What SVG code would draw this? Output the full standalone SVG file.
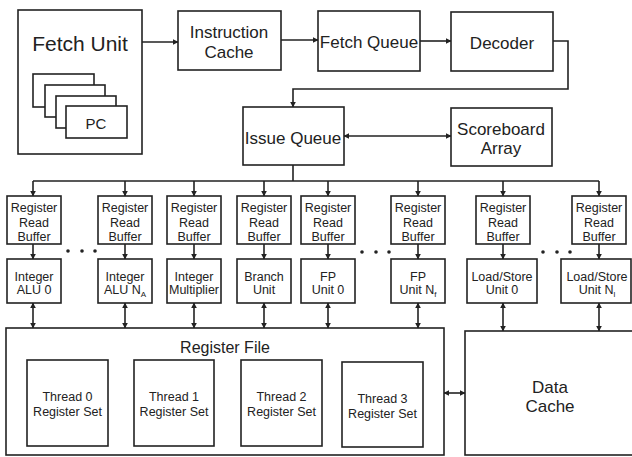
<svg xmlns="http://www.w3.org/2000/svg" width="632" height="457" viewBox="0 0 632 457">
<defs>
<style>
rect{fill:#fff;stroke:#222;stroke-width:1.6}
text{font-family:"Liberation Sans",Arial,sans-serif;fill:#222;text-anchor:middle}
.c{fill:none;stroke:#222;stroke-width:1.6}
.big{font-size:21px}
.m{font-size:17px}
.s{font-size:12.5px}
.rf{font-size:16px}
</style>
<marker id="a" viewBox="0 0 10 10" refX="9" refY="5" markerWidth="6" markerHeight="6" orient="auto-start-reverse" markerUnits="userSpaceOnUse">
<path d="M0,0 L10,5 L0,10 z" fill="#222"/>
</marker>
</defs>
<rect x="0" y="0" width="632" height="457" style="fill:#fff;stroke:none"/>

<g id="connectors">
<line class="c" x1="142" y1="42" x2="178" y2="42" marker-end="url(#a)"/>
<line class="c" x1="281" y1="40" x2="318" y2="40" marker-end="url(#a)"/>
<line class="c" x1="420" y1="41" x2="451" y2="41" marker-end="url(#a)"/>
<path class="c" d="M553,41 H568 V89 H293 V107" marker-end="url(#a)"/>
<line class="c" x1="344" y1="136" x2="451" y2="136" marker-start="url(#a)" marker-end="url(#a)"/>
<path class="c" d="M293,165 V181 M33,181 H599"/>
<line class="c" x1="33" y1="181" x2="33" y2="196" marker-end="url(#a)"/>
<line class="c" x1="125" y1="181" x2="125" y2="196" marker-end="url(#a)"/>
<line class="c" x1="194" y1="181" x2="194" y2="196" marker-end="url(#a)"/>
<line class="c" x1="264" y1="181" x2="264" y2="196" marker-end="url(#a)"/>
<line class="c" x1="328" y1="181" x2="328" y2="196" marker-end="url(#a)"/>
<line class="c" x1="418" y1="181" x2="418" y2="196" marker-end="url(#a)"/>
<line class="c" x1="503" y1="181" x2="503" y2="196" marker-end="url(#a)"/>
<line class="c" x1="599" y1="181" x2="599" y2="196" marker-end="url(#a)"/>
<line class="c" x1="33" y1="244" x2="33" y2="259" marker-end="url(#a)"/>
<line class="c" x1="125" y1="244" x2="125" y2="259" marker-end="url(#a)"/>
<line class="c" x1="194" y1="244" x2="194" y2="259" marker-end="url(#a)"/>
<line class="c" x1="264" y1="244" x2="264" y2="259" marker-end="url(#a)"/>
<line class="c" x1="328" y1="244" x2="328" y2="259" marker-end="url(#a)"/>
<line class="c" x1="418" y1="244" x2="418" y2="259" marker-end="url(#a)"/>
<line class="c" x1="503" y1="244" x2="503" y2="259" marker-end="url(#a)"/>
<line class="c" x1="599" y1="244" x2="599" y2="259" marker-end="url(#a)"/>
<line class="c" x1="33" y1="303" x2="33" y2="328" marker-start="url(#a)" marker-end="url(#a)"/>
<line class="c" x1="125" y1="303" x2="125" y2="328" marker-start="url(#a)" marker-end="url(#a)"/>
<line class="c" x1="194" y1="303" x2="194" y2="328" marker-start="url(#a)" marker-end="url(#a)"/>
<line class="c" x1="264" y1="303" x2="264" y2="328" marker-start="url(#a)" marker-end="url(#a)"/>
<line class="c" x1="328" y1="303" x2="328" y2="328" marker-start="url(#a)" marker-end="url(#a)"/>
<line class="c" x1="418" y1="303" x2="418" y2="328" marker-start="url(#a)" marker-end="url(#a)"/>
<line class="c" x1="503" y1="303" x2="503" y2="331" marker-start="url(#a)" marker-end="url(#a)"/>
<line class="c" x1="599" y1="303" x2="599" y2="331" marker-start="url(#a)" marker-end="url(#a)"/>
<line class="c" x1="444" y1="393" x2="465" y2="393" marker-start="url(#a)" marker-end="url(#a)"/>
</g>

<g id="fetch-unit">
<rect x="18" y="10" width="124" height="144"/>
<text class="big" x="80" y="51">Fetch Unit</text>
<rect x="33" y="74" width="61" height="33"/>
<rect x="45" y="85" width="60" height="32"/>
<rect x="56" y="96" width="60" height="32"/>
<rect x="66" y="106" width="61" height="32"/>
<text x="96" y="129" style="font-size:15px">PC</text>
</g>
<g id="instruction-cache">
<rect x="178" y="11" width="103" height="59"/>
<text class="m" x="229" y="38">Instruction</text>
<text class="m" x="229" y="58">Cache</text>
</g>
<g id="fetch-queue">
<rect x="318" y="11" width="102" height="60"/>
<text class="m" x="369" y="48">Fetch Queue</text>
</g>
<g id="decoder">
<rect x="451" y="12" width="102" height="59"/>
<text class="m" x="502" y="49">Decoder</text>
</g>
<g id="issue-queue">
<rect x="243" y="107" width="101" height="58"/>
<text class="m" x="293" y="144">Issue Queue</text>
</g>
<g id="scoreboard">
<rect x="451" y="108" width="101" height="58"/>
<text class="m" x="501" y="135">Scoreboard</text>
<text class="m" x="501" y="154">Array</text>
</g>

<g id="rrb1"><rect x="7" y="196" width="54" height="48"/><text class="s" x="34" y="212">Register</text><text class="s" x="34" y="226.5">Read</text><text class="s" x="34" y="241">Buffer</text></g>
<g id="rrb2"><rect x="98" y="196" width="54" height="48"/><text class="s" x="125" y="212">Register</text><text class="s" x="125" y="226.5">Read</text><text class="s" x="125" y="241">Buffer</text></g>
<g id="rrb3"><rect x="167" y="196" width="54" height="48"/><text class="s" x="194" y="212">Register</text><text class="s" x="194" y="226.5">Read</text><text class="s" x="194" y="241">Buffer</text></g>
<g id="rrb4"><rect x="237" y="196" width="54" height="48"/><text class="s" x="264" y="212">Register</text><text class="s" x="264" y="226.5">Read</text><text class="s" x="264" y="241">Buffer</text></g>
<g id="rrb5"><rect x="301" y="196" width="54" height="48"/><text class="s" x="328" y="212">Register</text><text class="s" x="328" y="226.5">Read</text><text class="s" x="328" y="241">Buffer</text></g>
<g id="rrb6"><rect x="391" y="196" width="54" height="48"/><text class="s" x="418" y="212">Register</text><text class="s" x="418" y="226.5">Read</text><text class="s" x="418" y="241">Buffer</text></g>
<g id="rrb7"><rect x="476" y="196" width="54" height="48"/><text class="s" x="503" y="212">Register</text><text class="s" x="503" y="226.5">Read</text><text class="s" x="503" y="241">Buffer</text></g>
<g id="rrb8"><rect x="572" y="196" width="54" height="48"/><text class="s" x="599" y="212">Register</text><text class="s" x="599" y="226.5">Read</text><text class="s" x="599" y="241">Buffer</text></g>

<g id="dots">
<circle cx="68" cy="251" r="1.8" fill="#222"/><circle cx="82" cy="251" r="1.8" fill="#222"/><circle cx="95" cy="251" r="1.8" fill="#222"/>
<circle cx="362" cy="252" r="1.8" fill="#222"/><circle cx="376" cy="252" r="1.8" fill="#222"/><circle cx="389" cy="252" r="1.8" fill="#222"/>
<circle cx="543" cy="252" r="1.8" fill="#222"/><circle cx="557" cy="252" r="1.8" fill="#222"/><circle cx="570" cy="252" r="1.8" fill="#222"/>
</g>

<g id="alu0"><rect x="7" y="259" width="54" height="44"/><text class="s" x="34" y="280.5">Integer</text><text class="s" x="34" y="294">ALU 0</text></g>
<g id="alun"><rect x="98" y="259" width="54" height="44"/><text class="s" x="125" y="280.5">Integer</text><text class="s" x="125" y="294">ALU N<tspan font-size="8" dy="3">A</tspan></text></g>
<g id="mult"><rect x="167" y="259" width="54" height="44"/><text class="s" x="194" y="280.5">Integer</text><text class="s" x="194" y="294">Multiplier</text></g>
<g id="branch"><rect x="237" y="259" width="54" height="44"/><text class="s" x="264" y="280.5">Branch</text><text class="s" x="264" y="294">Unit</text></g>
<g id="fp0"><rect x="301" y="259" width="54" height="44"/><text class="s" x="328" y="280.5">FP</text><text class="s" x="328" y="294">Unit 0</text></g>
<g id="fpn"><rect x="391" y="259" width="54" height="44"/><text class="s" x="418" y="280.5">FP</text><text class="s" x="418" y="294">Unit N<tspan font-size="8" dy="3">f</tspan></text></g>
<g id="ls0"><rect x="467" y="259" width="70" height="44"/><text class="s" x="502" y="280.5">Load/Store</text><text class="s" x="502" y="294">Unit 0</text></g>
<g id="lsn"><rect x="561" y="259" width="70" height="44"/><text class="s" x="597" y="280.5">Load/Store</text><text class="s" x="597" y="294">Unit N<tspan font-size="8" dy="3">l</tspan></text></g>

<g id="register-file">
<rect x="6" y="328" width="438" height="127"/>
<text class="rf" x="225" y="353">Register File</text>
<rect x="27" y="360" width="81" height="86"/>
<text class="s" x="67.5" y="401">Thread 0</text><text class="s" x="67.5" y="416">Register Set</text>
<rect x="134" y="360" width="80" height="86"/>
<text class="s" x="174" y="401">Thread 1</text><text class="s" x="174" y="416">Register Set</text>
<rect x="241" y="360" width="81" height="86"/>
<text class="s" x="281.5" y="401">Thread 2</text><text class="s" x="281.5" y="416">Register Set</text>
<rect x="342" y="362" width="81" height="85"/>
<text class="s" x="382.5" y="403">Thread 3</text><text class="s" x="382.5" y="418">Register Set</text>
</g>
<g id="data-cache">
<rect x="465" y="331" width="180" height="124"/>
<text class="m" x="550" y="393">Data</text>
<text class="m" x="550" y="412">Cache</text>
</g>
</svg>
